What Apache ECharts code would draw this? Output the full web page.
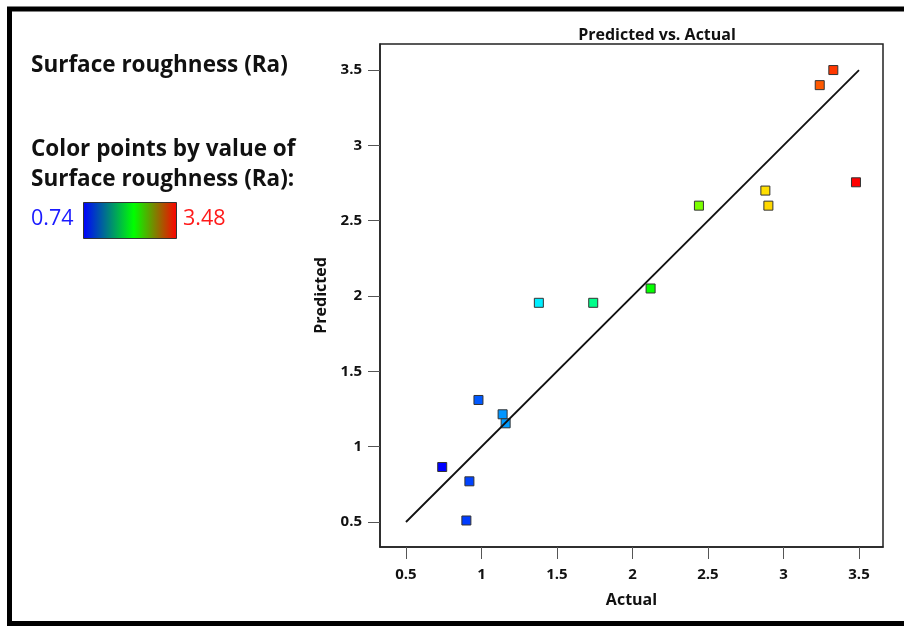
<!DOCTYPE html>
<html>
<head>
<meta charset="utf-8">
<script src="https://cdn.jsdelivr.net/npm/echarts@6/dist/echarts.min.js"></script>
<style>
html,body{margin:0;padding:0;background:#fff;}
#main{width:904px;height:626px;}
</style>
</head>
<body>
<div id="main"></div>
<script>
// Data
const actual    = [3.33, 3.24, 3.48, 2.88, 2.90, 2.44, 2.12, 1.38, 1.74, 0.98, 1.14, 1.16, 0.74, 0.92, 0.90];
const predicted = [3.50, 3.40, 2.755, 2.70, 2.60, 2.60, 2.05, 1.955, 1.955, 1.31, 1.215, 1.155, 0.865, 0.77, 0.51];
const refLine   = [[0.5, 0.5], [3.5, 3.5]];
const tickValues = [0.5, 1, 1.5, 2, 2.5, 3, 3.5];
const tickLabels = ['0.5', '1', '1.5', '2', '2.5', '3', '3.5'];
const colorMin = 0.74, colorMax = 3.48;

const points = actual.map((a, i) => [a, predicted[i]]);
const FONT = '"Open Sans", "Noto Sans", sans-serif';

const chart = echarts.init(document.getElementById('main'), null, {renderer: 'canvas'});
const labelFmt = v => { const i = tickValues.indexOf(+v.toFixed(2)); return i >= 0 ? tickLabels[i] : ''; };

chart.setOption({
  animation: false,
  backgroundColor: '#fff',
  title: {
    text: 'Predicted vs. Actual',
    left: 652, top: 22, textAlign: 'center',
    textStyle: {fontFamily: FONT, fontWeight: 'bold', fontSize: 16, color: '#111'}
  },
  grid: {
    left: 380, top: 44, width: 503, height: 503,
    show: true, borderColor: '#222', borderWidth: 1.5, backgroundColor: 'transparent'
  },
  xAxis: {
    type: 'value', min: 0.328, max: 3.659,
    name: 'Actual', nameLocation: 'middle', nameGap: 45,
    nameTextStyle: {fontFamily: FONT, fontWeight: 'bold', fontSize: 16, color: '#111'},
    axisLine: {show: true, onZero: false, lineStyle: {color: '#222', width: 1.5}},
    axisTick: {show: true, length: 12, customValues: tickValues, lineStyle: {color: '#555', width: 1}},
    axisLabel: {customValues: tickValues, formatter: labelFmt, margin: 20,
      fontFamily: FONT, fontWeight: 'bold', fontSize: 15, color: '#111'},
    splitLine: {show: false}
  },
  yAxis: {
    type: 'value', min: 0.334, max: 3.673,
    name: 'Predicted', nameLocation: 'middle', nameGap: 50, nameRotate: 90,
    nameTextStyle: {fontFamily: FONT, fontWeight: 'bold', fontSize: 16, color: '#111'},
    axisLine: {show: true, onZero: false, lineStyle: {color: '#222', width: 1.5}},
    axisTick: {show: true, length: 12, customValues: tickValues, lineStyle: {color: '#555', width: 1}},
    axisLabel: {customValues: tickValues, formatter: labelFmt, margin: 18,
      fontFamily: FONT, fontWeight: 'bold', fontSize: 15, color: '#111'},
    splitLine: {show: false}
  },
  visualMap: {
    show: false, type: 'continuous', seriesIndex: 0, dimension: 0,
    min: colorMin, max: colorMax,
    inRange: {color: ['#0000ff', '#00ffff', '#00ff00', '#ffff00', '#ff0000']}
  },
  series: [
    {
      type: 'scatter', data: points, symbol: 'rect', symbolSize: 9,
      itemStyle: {borderColor: '#333', borderWidth: 1, opacity: 1},
      z: 2
    },
    {
      type: 'line', data: refLine, symbol: 'none', silent: true,
      lineStyle: {color: '#111', width: 1.8}, z: 3
    }
  ],
  graphic: [
    {type: 'rect', shape: {x: 9.5, y: 9, width: 1000, height: 614.5},
     style: {fill: 'none', stroke: '#000', lineWidth: 5}, z: 10},
    {type: 'text', left: 31, top: 54,
     style: {text: 'Surface roughness (Ra)', font: 'bold 22.5px ' + FONT, fill: '#111'}},
    {type: 'text', left: 31, top: 138,
     style: {text: 'Color points by value of', font: 'bold 22.5px ' + FONT, fill: '#111'}},
    {type: 'text', left: 31, top: 168,
     style: {text: 'Surface roughness (Ra):', font: 'bold 22.5px ' + FONT, fill: '#111'}},
    {type: 'text', left: 31, top: 208,
     style: {text: String(colorMin), font: '21.5px ' + FONT, fill: '#1a1aff'}},
    {type: 'text', left: 183, top: 208,
     style: {text: String(colorMax), font: '21.5px ' + FONT, fill: '#ff1a1a'}},
    {type: 'rect', shape: {x: 83.5, y: 202.5, width: 93, height: 36},
     style: {
       fill: new echarts.graphic.LinearGradient(0, 0, 1, 0, [
         {offset: 0, color: '#0000ff'},
         {offset: 0.54, color: '#00ff00'},
         {offset: 1, color: '#ff0000'}
       ]),
       stroke: '#333', lineWidth: 1
     }}
  ]
});
</script>
</body>
</html>
